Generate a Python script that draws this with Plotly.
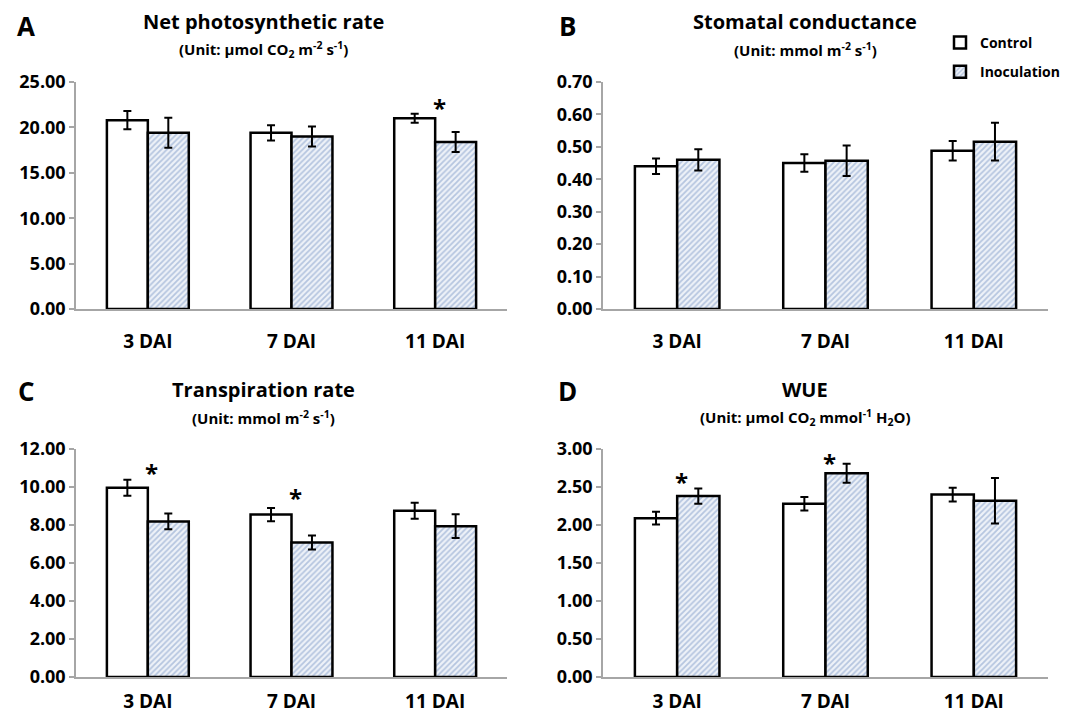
import plotly.graph_objects as go

categories = ["3 DAI", "7 DAI", "11 DAI"]

A_control = [20.8, 19.4, 21.0]
A_control_err = [1.0, 0.85, 0.5]
A_inoc = [19.4, 19.0, 18.4]
A_inoc_err = [1.65, 1.1, 1.1]
A_star = [None, None, 22.6]

B_control = [0.44, 0.45, 0.488]
B_control_err = [0.024, 0.027, 0.03]
B_inoc = [0.46, 0.457, 0.516]
B_inoc_err = [0.033, 0.047, 0.058]
B_star = [None, None, None]

C_control = [9.96, 8.55, 8.75]
C_control_err = [0.42, 0.35, 0.42]
C_inoc = [8.19, 7.08, 7.94]
C_inoc_err = [0.42, 0.37, 0.62]
C_star = [11.0, 9.68, None]

D_control = [2.09, 2.28, 2.40]
D_control_err = [0.085, 0.09, 0.09]
D_inoc = [2.38, 2.68, 2.32]
D_inoc_err = [0.10, 0.125, 0.30]
D_star = [2.62, 2.87, None]

panels = [
    dict(letter="A", title="Net photosynthetic rate",
         unit="(Unit: µmol CO<sub>2</sub> m<sup>-2</sup> s<sup>-1</sup>)",
         ctrl=A_control, ctrl_err=A_control_err, inoc=A_inoc, inoc_err=A_inoc_err,
         star=A_star, yrange=[0, 25], dtick=5),
    dict(letter="B", title="Stomatal conductance",
         unit="(Unit: mmol m<sup>-2</sup> s<sup>-1</sup>)",
         ctrl=B_control, ctrl_err=B_control_err, inoc=B_inoc, inoc_err=B_inoc_err,
         star=B_star, yrange=[0, 0.7], dtick=0.1),
    dict(letter="C", title="Transpiration rate",
         unit="(Unit: mmol m<sup>-2</sup> s<sup>-1</sup>)",
         ctrl=C_control, ctrl_err=C_control_err, inoc=C_inoc, inoc_err=C_inoc_err,
         star=C_star, yrange=[0, 12], dtick=2),
    dict(letter="D", title="WUE",
         unit="(Unit: µmol CO<sub>2</sub> mmol<sup>-1</sup> H<sub>2</sub>O)",
         ctrl=D_control, ctrl_err=D_control_err, inoc=D_inoc, inoc_err=D_inoc_err,
         star=D_star, yrange=[0, 3], dtick=0.5),
]

# the page body has an 8px margin, so the figure is made 8px smaller
OFF = 8
W, H = 1079 - OFF, 716 - OFF
FONT = "Open Sans"


def px(x):
    return (x - OFF) / W


def py(y):
    return 1 - (y - OFF) / H


# pixel layout of the plot areas in page pixels (left, right, top, bottom)
boxes = [(76, 507, 82, 309), (603, 1048, 82, 309), (76, 507, 449, 677), (603, 1048, 449, 677)]
standoffs = [14, 14, 6, 6]

fig = go.Figure()
annotations = []

for i, (p, (l, r, t, b)) in enumerate(zip(panels, boxes)):
    n = "" if i == 0 else str(i + 1)
    xa, ya = "x" + n, "y" + n
    fig.add_trace(go.Bar(
        x=categories, y=p["ctrl"], xaxis=xa, yaxis=ya, name="Control",
        legendgroup="c", showlegend=(i == 1),
        marker=dict(color="white", line=dict(color="black", width=2.5)),
        error_y=dict(type="data", array=p["ctrl_err"], color="black", thickness=2, width=4),
    ))
    fig.add_trace(go.Bar(
        x=categories, y=p["inoc"], xaxis=xa, yaxis=ya, name="Inoculation",
        legendgroup="i", showlegend=(i == 1),
        marker=dict(color="#E4EAF4", line=dict(color="black", width=2.5),
                    pattern=dict(shape="/", fgcolor="#7B98C6", bgcolor="#EEF2F8",
                                 size=4, solidity=0.45)),
        error_y=dict(type="data", array=p["inoc_err"], color="black", thickness=2, width=4),
    ))
    fig.layout["xaxis" + n] = dict(
        domain=[px(l), px(r)], anchor=ya, type="category", automargin=False,
        showline=True, linecolor="#A6A6A6", linewidth=1.5, ticks="",
        tickfont=dict(family=FONT, size=19, color="black", weight="bold"),
        ticklabelstandoff=standoffs[i], showgrid=False, zeroline=False,
    )
    fig.layout["yaxis" + n] = dict(
        domain=[py(b), py(t)], anchor=xa, range=p["yrange"], dtick=p["dtick"],
        tick0=0, tickformat=".2f", showline=True, linecolor="#A6A6A6", linewidth=1.5,
        automargin=False,
        ticks="outside", ticklen=5, tickcolor="#A6A6A6", tickwidth=1.5,
        tickfont=dict(family=FONT, size=18, color="black", weight="bold"),
        showgrid=False, zeroline=False,
    )
    cx = px(263 if i % 2 == 0 else 805)
    row = i // 2
    annotations.append(dict(text=p["title"], xref="paper", yref="paper",
                            x=cx, y=py(22 + row * 367),
                            xanchor="center", yanchor="middle", showarrow=False,
                            font=dict(family=FONT, size=20, color="black", weight="bold")))
    annotations.append(dict(text=p["unit"], xref="paper", yref="paper",
                            x=cx, y=py(50 + row * 367),
                            xanchor="center", yanchor="middle", showarrow=False,
                            font=dict(family=FONT, size=15, color="black", weight="bold")))
    annotations.append(dict(text=p["letter"], xref="paper", yref="paper",
                            x=px(26 if i % 2 == 0 else 567), y=py(26 + row * 365),
                            xanchor="center", yanchor="middle", showarrow=False,
                            font=dict(family=FONT, size=26, color="black", weight="bold")))
    for cat, s in zip(categories, p["star"]):
        if s is not None:
            annotations.append(dict(text="*", xref=xa, yref=ya, x=cat, y=s,
                                    xanchor="center", yanchor="middle", showarrow=False,
                                    xshift=4, yshift=-4,
                                    font=dict(family=FONT, size=24, color="black", weight="bold")))

fig.update_layout(
    width=W, height=H, margin=dict(l=0, r=0, t=0, b=0, autoexpand=False),
    paper_bgcolor="white", plot_bgcolor="white",
    barmode="group", bargap=0.43, bargroupgap=0,
    annotations=annotations,
    legend=dict(x=px(940), y=py(27), xanchor="left", yanchor="top",
                font=dict(family=FONT, size=14, color="black", weight="bold"),
                traceorder="grouped", tracegroupgap=8, itemwidth=30,
                bgcolor="rgba(0,0,0,0)"),
)

fig.write_html("out.html")
